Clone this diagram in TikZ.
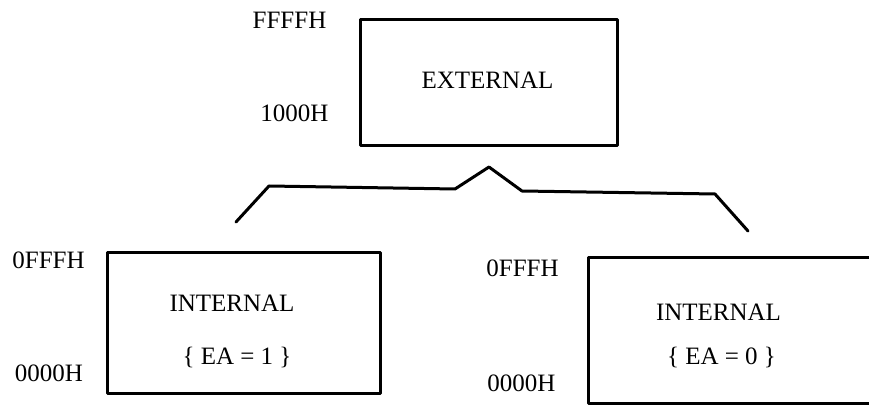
\documentclass[tikz,border=0pt]{standalone}
\usepackage{fontspec}
\setmainfont{Liberation Serif}
\begin{document}
\begin{tikzpicture}[x=1pt,y=-1pt,
  memline/.style={line width=3pt, line join=round, draw=black},
  membox/.style={memline, rectangle, inner sep=0pt},
  lbl/.style={font=\fontsize{25}{28}\selectfont, inner sep=0pt, anchor=center}]
\clip (0,0) rectangle (869,411);
\useasboundingbox (0,0) rectangle (869,411);
% boxes
\node[membox, minimum width=257pt, minimum height=126pt] (ext) at (488.5,83) {};
\node[membox, minimum width=273pt, minimum height=140pt] (int1) at (243.5,323) {};
\node[membox, minimum width=300pt, minimum height=145pt] (int0) at (738,330.5) {};
% box texts
\node[lbl] (exttxt) at (487.5,80) {EXTERNAL};
\node[lbl] (i1a) at (232,303) {INTERNAL};
\node[lbl] (i1b) at (237,357) {\{ EA = 1 \}};
\node[lbl] (i0a) at (718.5,312) {INTERNAL};
\node[lbl] (i0b) at (721.5,357) {\{ EA = 0 \}};
% addresses
\node[lbl] (a1) at (289.5,20) {FFFFH};
\node[lbl] (a2) at (294.5,113) {1000H};
\node[lbl] (a3) at (48.5,260) {0FFFH};
\node[lbl] (a4) at (49,373) {0000H};
\node[lbl] (a5) at (522.5,268) {0FFFH};
\node[lbl] (a6) at (521.5,383) {0000H};
% brace
\draw[memline, line cap=round] (236,222) -- (269,186) -- (455,189) -- (489,167)
  -- (522,191) -- (715,194) -- (748,231);
\end{tikzpicture}
\end{document}
